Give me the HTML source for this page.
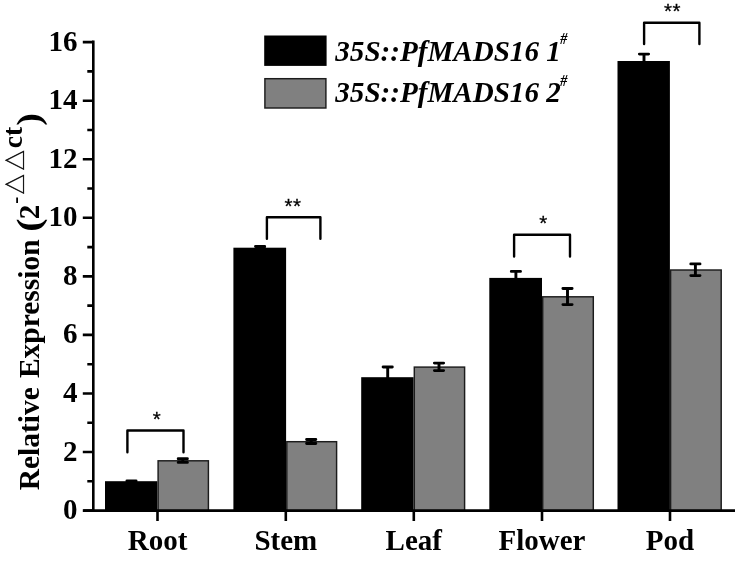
<!DOCTYPE html>
<html><head><meta charset="utf-8"><title>chart</title>
<style>html,body{margin:0;padding:0;background:#fff}svg{display:block}text{font-family:"Liberation Serif","DejaVu Serif",serif;font-weight:bold;fill:#000}.tri{font-family:"WenQuanYi Zen Hei","Noto Sans CJK SC","DejaVu Sans",sans-serif;font-weight:normal;stroke:#000;stroke-width:0.35px}.sig{font-family:"Liberation Sans","DejaVu Sans",sans-serif;font-weight:normal}</style></head><body>
<svg width="739" height="561" viewBox="0 0 739 561">
<rect width="739" height="561" fill="#fff"/>
<rect x="105.0" y="481.2" width="52.4" height="29.4" fill="#000"/>
<rect x="158.1" y="460.8" width="50.3" height="50.0" fill="#808080" stroke="#1c1c1c" stroke-width="1.45"/>
<path d="M131.5 481.3V481.0M126.9 481.0h9.2M126.9 481.3h9.2" stroke="#000" stroke-width="2.9" stroke-linecap="round" fill="none"/>
<path d="M182.8 462.4V458.7M178.2 458.7h9.2M178.2 462.4h9.2" stroke="#000" stroke-width="2.9" stroke-linecap="round" fill="none"/>
<rect x="233.4" y="247.7" width="52.7" height="262.9" fill="#000"/>
<rect x="286.8" y="441.7" width="49.8" height="69.1" fill="#808080" stroke="#1c1c1c" stroke-width="1.45"/>
<path d="M260.1 248.8V246.5M255.5 246.5h9.2M255.5 248.8h9.2" stroke="#000" stroke-width="2.9" stroke-linecap="round" fill="none"/>
<path d="M311.2 443.5V439.5M306.6 439.5h9.2M306.6 443.5h9.2" stroke="#000" stroke-width="2.9" stroke-linecap="round" fill="none"/>
<rect x="361.2" y="377.2" width="52.4" height="133.4" fill="#000"/>
<rect x="414.3" y="367.1" width="50.3" height="143.7" fill="#808080" stroke="#1c1c1c" stroke-width="1.45"/>
<path d="M387.7 387.4V367.0M383.1 367.0h9.2M383.1 387.4h9.2" stroke="#000" stroke-width="2.9" stroke-linecap="round" fill="none"/>
<path d="M439.0 370.6V363.1M434.4 363.1h9.2M434.4 370.6h9.2" stroke="#000" stroke-width="2.9" stroke-linecap="round" fill="none"/>
<rect x="489.3" y="277.9" width="52.7" height="232.7" fill="#000"/>
<rect x="542.7" y="296.8" width="50.6" height="214.0" fill="#808080" stroke="#1c1c1c" stroke-width="1.45"/>
<path d="M515.9 284.4V271.4M511.3 271.4h9.2M511.3 284.4h9.2" stroke="#000" stroke-width="2.9" stroke-linecap="round" fill="none"/>
<path d="M567.5 304.6V288.5M562.9 288.5h9.2M562.9 304.6h9.2" stroke="#000" stroke-width="2.9" stroke-linecap="round" fill="none"/>
<rect x="617.5" y="61.0" width="52.4" height="449.6" fill="#000"/>
<rect x="670.6" y="270.0" width="50.6" height="240.8" fill="#808080" stroke="#1c1c1c" stroke-width="1.45"/>
<path d="M644.0 67.9V54.1M639.4 54.1h9.2M639.4 67.9h9.2" stroke="#000" stroke-width="2.9" stroke-linecap="round" fill="none"/>
<path d="M695.4 275.6V263.9M690.8 263.9h9.2M690.8 275.6h9.2" stroke="#000" stroke-width="2.9" stroke-linecap="round" fill="none"/>
<path d="M93.3 40.6V512.1M83.3 510.6H735" stroke="#000" stroke-width="2.6" fill="none"/>
<path d="M82.8 510.6H93.3M87.3 481.3H93.3M82.8 452.0H93.3M87.3 422.8H93.3M82.8 393.5H93.3M87.3 364.2H93.3M82.8 334.9H93.3M87.3 305.6H93.3M82.8 276.4H93.3M87.3 247.1H93.3M82.8 217.8H93.3M87.3 188.5H93.3M82.8 159.2H93.3M87.3 130.0H93.3M82.8 100.7H93.3M87.3 71.4H93.3M82.8 42.1H93.3" stroke="#000" stroke-width="2.6" fill="none"/>
<path d="M157.5 510.6V521M285.8 510.6V521M413.8 510.6V521M542.0 510.6V521M670.0 510.6V521" stroke="#000" stroke-width="2.6" fill="none"/>
<text x="77.5" y="519.1" font-size="29" text-anchor="end">0</text>
<text x="77.5" y="460.5" font-size="29" text-anchor="end">2</text>
<text x="77.5" y="402.0" font-size="29" text-anchor="end">4</text>
<text x="77.5" y="343.4" font-size="29" text-anchor="end">6</text>
<text x="77.5" y="284.9" font-size="29" text-anchor="end">8</text>
<text x="77.5" y="226.3" font-size="29" text-anchor="end">10</text>
<text x="77.5" y="167.7" font-size="29" text-anchor="end">12</text>
<text x="77.5" y="109.2" font-size="29" text-anchor="end">14</text>
<text x="77.5" y="50.6" font-size="29" text-anchor="end">16</text>
<text x="157.5" y="549.8" font-size="29" text-anchor="middle">Root</text>
<text x="285.8" y="549.8" font-size="29" text-anchor="middle">Stem</text>
<text x="413.8" y="549.8" font-size="29" text-anchor="middle">Leaf</text>
<text x="542.0" y="549.8" font-size="29" text-anchor="middle">Flower</text>
<text x="670.0" y="549.8" font-size="29" text-anchor="middle">Pod</text>
<g transform="translate(39.3 490.3) rotate(-90)" font-size="29"><text word-spacing="1.6" font-size="29.5"><tspan x="0" y="0">Relative Expression</tspan></text><text transform="translate(258.6 1) scale(1.22 1)" font-size="33">(</text><text><tspan x="271" y="0">2</tspan><tspan x="286.5" y="-17.5" font-size="21">-</tspan><tspan class="tri" x="294.4" y="-16" font-size="23.5">△</tspan><tspan class="tri" x="318.2" y="-16" font-size="23.5">△</tspan><tspan x="342" y="-17" font-size="27.5">ct</tspan></text><text transform="translate(364.6 1) scale(1.15 1)" font-size="33">)</text></g>
<rect x="264.2" y="35.5" width="62.4" height="30.4" fill="#000"/>
<rect x="264.9" y="78.7" width="61.0" height="29.3" fill="#808080" stroke="#1c1c1c" stroke-width="1.45"/>
<text x="335.3" y="60.5" font-size="29.1" font-style="italic">35S::PfMADS16 1</text>
<text transform="translate(560.2 43.9) scale(0.82 1)" font-size="17.4" font-style="italic">#</text>
<text x="335.3" y="102.3" font-size="29.1" font-style="italic">35S::PfMADS16 2</text>
<text transform="translate(560.2 85.7) scale(0.82 1)" font-size="17.4" font-style="italic">#</text>
<path d="M127.4 452.2V430.5H183.5V452.2" stroke="#000" stroke-width="2.4" stroke-linejoin="round" stroke-linecap="round" fill="none"/>
<text class="sig" x="157.0" y="425.9" font-size="20.5" letter-spacing="0.6" stroke="#000" stroke-width="0.3" text-anchor="middle">*</text>
<path d="M266.9 238.7V217.2H320.4V238.7" stroke="#000" stroke-width="2.4" stroke-linejoin="round" stroke-linecap="round" fill="none"/>
<text class="sig" x="293.0" y="212.6" font-size="20.5" letter-spacing="0.6" stroke="#000" stroke-width="0.3" text-anchor="middle">**</text>
<path d="M514.1 256.5V234.7H570.0V256.5" stroke="#000" stroke-width="2.4" stroke-linejoin="round" stroke-linecap="round" fill="none"/>
<text class="sig" x="543.6" y="230.1" font-size="20.5" letter-spacing="0.6" stroke="#000" stroke-width="0.3" text-anchor="middle">*</text>
<path d="M644.1 44.0V22.7H699.4V44.0" stroke="#000" stroke-width="2.4" stroke-linejoin="round" stroke-linecap="round" fill="none"/>
<text class="sig" x="672.5" y="18.1" font-size="20.5" letter-spacing="0.6" stroke="#000" stroke-width="0.3" text-anchor="middle">**</text>
</svg></body></html>
